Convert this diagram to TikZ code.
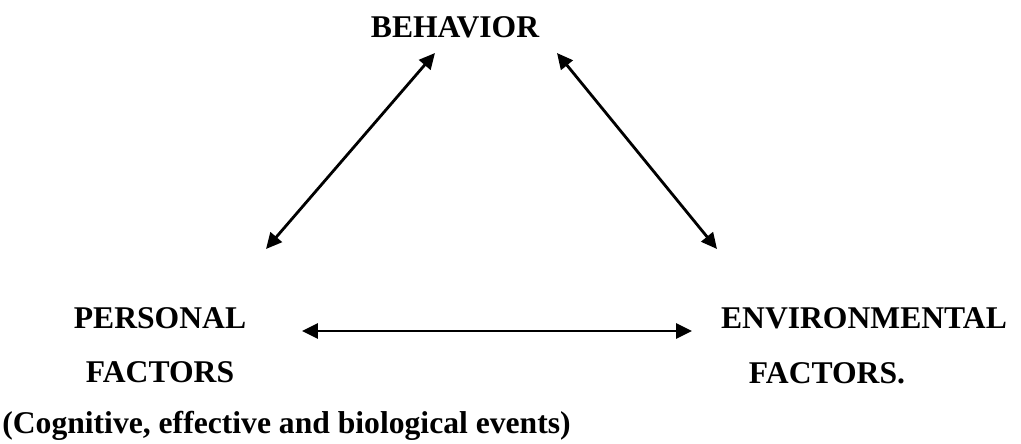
\documentclass[tikz,border=0pt]{standalone}
\usepackage{fontspec}
\setmainfont{Liberation Serif}
\usepackage{tikz}
\usetikzlibrary{arrows.meta}

\begin{document}
\begin{tikzpicture}[x=0.02cm,y=-0.02cm,
	label/.style={inner sep=0pt,font=\fontsize{18}{21}\selectfont\bfseries},
	twoway/.style={line width=1.6pt,{Triangle[length=9pt,width=8.5pt]}-{Triangle[length=9pt,width=8.5pt]}}]
					\useasboundingbox (0,0) rectangle (1021,443);
					\node[label,anchor=base] (beh) at (455,37) {BEHAVIOR};
					\node[label,anchor=base] (pers) at (160,328) {PERSONAL};
					\node[label,anchor=base] (pfac) at (160,382) {FACTORS};
					\node[label,anchor=base] (env) at (864,328) {ENVIRONMENTAL};
					\node[label,anchor=base] (efac) at (827,383) {FACTORS.};
					\node[label,anchor=base west] (note) at (2,433) {(Cognitive, effective and biological events)};
					\coordinate (pl) at (266,249);
					\coordinate (bl) at (435,53);
					\coordinate (br) at (557,53);
					\coordinate (er) at (717,249);
					\coordinate (ph) at (302,331);
					\coordinate (eh) at (692,331);
					\draw[twoway] (pl) -- (bl);
					\draw[twoway] (br) -- (er);
					\draw[twoway] (ph) -- (eh);
				  \end{tikzpicture}
\end{document}
